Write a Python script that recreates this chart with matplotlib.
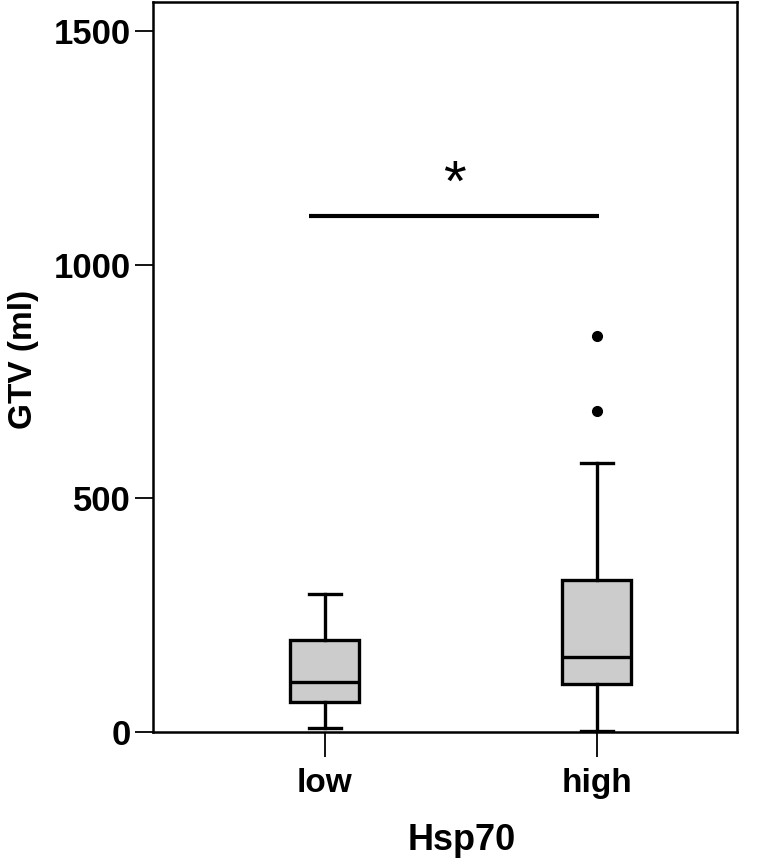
import matplotlib.pyplot as plt

plt.rcParams["font.family"] = ["Liberation Sans", "DejaVu Sans"]

groups = ["low", "high"]
q1 = [64, 103]
median = [107, 160]
q3 = [197, 325]
whis_lo = [9, 3]
whis_hi = [295, 575]
outliers = [[], [686, 848]]

sig_y = 1104
sig_label = "*"

stats = []
for i, g in enumerate(groups):
    stats.append(
        {
            "label": g,
            "q1": q1[i],
            "med": median[i],
            "q3": q3[i],
            "whislo": whis_lo[i],
            "whishi": whis_hi[i],
            "fliers": outliers[i],
        }
    )

fig = plt.figure(figsize=(7.67, 8.58), dpi=100)
ax = fig.add_axes([153 / 767, 126 / 858, 584 / 767, 730 / 858])

ax.bxp(
    stats,
    positions=[1, 2],
    widths=0.254,
    capwidths=0.12,
    patch_artist=True,
    boxprops=dict(facecolor="#cccccc", edgecolor="black", linewidth=2.4),
    medianprops=dict(color="black", linewidth=2.4),
    whiskerprops=dict(color="black", linewidth=2.4),
    capprops=dict(color="black", linewidth=2.4),
    flierprops=dict(
        marker="o", markerfacecolor="black", markeredgecolor="black", markersize=7
    ),
)

# significance bar
ax.plot([0.941, 2.007], [sig_y, sig_y], color="black", linewidth=3, solid_capstyle="butt")
ax.text(1.475, sig_y + 8, sig_label, ha="center", va="bottom", fontsize=42)

ax.set_xlim(0.368, 2.515)
ax.set_ylim(0, 1562)
ax.set_yticks([0, 500, 1000, 1500])
ax.set_xticks([1, 2])
ax.set_xticklabels(groups)

for s in ax.spines.values():
    s.set_linewidth(1.8)

ax.tick_params(axis="y", length=13, width=1.3, labelsize=25, pad=3)
ax.tick_params(axis="x", length=18, width=1.3, labelsize=24, pad=8)
for lab in ax.get_xticklabels() + ax.get_yticklabels():
    lab.set_fontweight("bold")

ax.set_ylabel("GTV (ml)", fontsize=24, fontweight="bold")
ax.set_xlabel("Hsp70", fontsize=26, fontweight="bold")
ax.yaxis.set_label_coords(-0.195, 0.51)
ax.xaxis.set_label_coords(0.529, -0.124)

fig.savefig("out.png", dpi=100)
